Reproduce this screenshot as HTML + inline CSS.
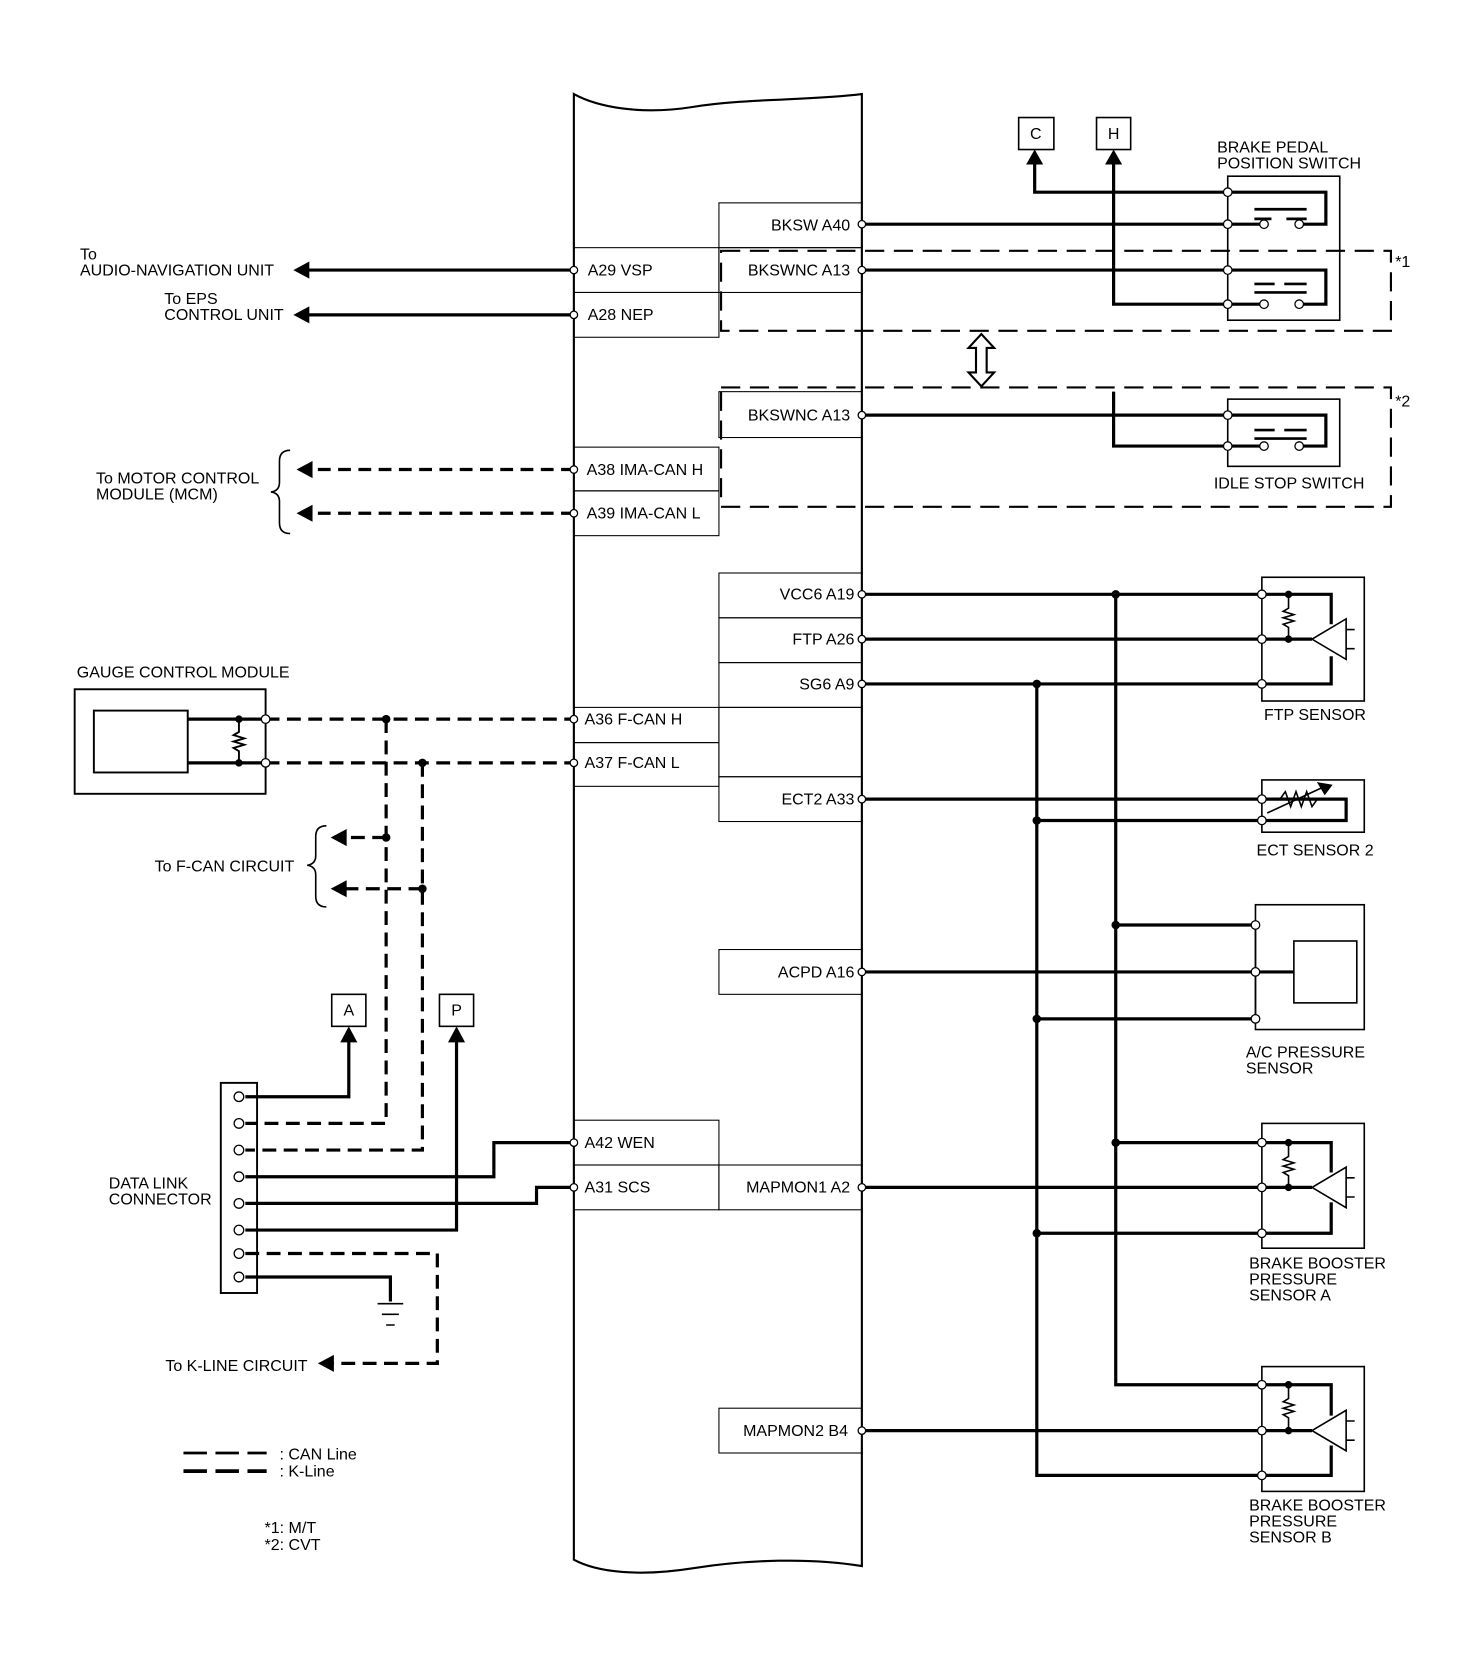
<!DOCTYPE html>
<html><head><meta charset="utf-8"><style>
html,body{margin:0;padding:0;background:#fff;}
svg{display:block}
text{font-family:"Liberation Sans",Arial,sans-serif;font-size:15px;fill:#000;}
</style></head><body>
<svg width="1472" height="1674" viewBox="0 0 1380 1569" xmlns="http://www.w3.org/2000/svg">
<g fill="none" stroke="#000">
<!-- ECU body -->
<path d="M538,88 C560,100 600,108 650,100 C700,92 760,94 808,88 L808,1468 C760,1460 700,1462 650,1470 C600,1478 560,1474 538,1462 Z" stroke-width="2"/>
<g stroke-width="1">
<rect x="538" y="232" width="136" height="42"/><rect x="538" y="274" width="136" height="42"/>
<rect x="538" y="419" width="136" height="41"/><rect x="538" y="460" width="136" height="42"/>
<rect x="538" y="663" width="136" height="33"/><rect x="538" y="696" width="136" height="41"/>
<rect x="538" y="1050" width="136" height="42"/><rect x="538" y="1092" width="136" height="42"/>
<rect x="674" y="190" width="134" height="42"/><rect x="674" y="232" width="134" height="42"/>
<rect x="674" y="367" width="134" height="43"/>
<rect x="674" y="537" width="134" height="42"/><rect x="674" y="579" width="134" height="42"/><rect x="674" y="621" width="134" height="42"/>
<rect x="674" y="663" width="134" height="65"/><rect x="674" y="728" width="134" height="42"/>
<rect x="674" y="890" width="134" height="42"/><rect x="674" y="1092" width="134" height="42"/>
<rect x="674" y="1320" width="134" height="42"/>
</g>
<g stroke-width="2" stroke-dasharray="18,9">
<path d="M676,235 H1304 V310 H676 Z"/>
<path d="M676,363 H1304 V475 H676 Z"/>
</g>
<g stroke-width="3">
<path d="M808,210 H1151"/><path d="M808,253 H1151"/><path d="M808,389 H1151"/>
<path d="M970,152 V180 H1243 V210 H1222"/><path d="M1151,210 H1181"/>
<path d="M1044,152 V285 H1181"/><path d="M1151,253 H1243 V285 H1222"/>
<path d="M1044,367 V418 H1181"/><path d="M1151,389 H1243 V418 H1222"/>
</g>
<g stroke-width="1.5">
<rect x="955" y="110" width="33" height="30"/><rect x="1028" y="110" width="32" height="30"/>
<rect x="1151" y="165" width="105" height="135"/>
<rect x="1151" y="374" width="105" height="63"/>
</g>
<g stroke-width="2.5">
<path d="M1176,196 H1225"/><path d="M1176,205 H1192 M1206,205 H1225"/>
<path d="M1176,266 H1195 M1204,266 H1225"/><path d="M1176,274 H1225"/>
<path d="M1176,403 H1195 M1204,403 H1225"/><path d="M1176,411 H1225"/>
</g>
<g fill="#fff" stroke-width="1.2">
<circle cx="1185" cy="210" r="4"/><circle cx="1218" cy="210" r="4"/>
<circle cx="1185" cy="285" r="4"/><circle cx="1218" cy="285" r="4"/>
<circle cx="1185" cy="418" r="4"/><circle cx="1218" cy="418" r="4"/>
</g>
<path d="M920,313 L908,326 H915 V349 H908 L920,362 L932,349 H925 V326 H932 Z" stroke-width="2"/>
<g stroke-width="3">
<path d="M538,253 H288"/>
<path d="M538,295 H288"/>
</g>
<g stroke-width="3" stroke-dasharray="12,7">
<path d="M538,440 H290"/>
<path d="M538,481 H290"/>
</g>
<path d="M272,422 Q262,422 262,432 V452 Q262,460 254,461 Q262,462 262,470 V490 Q262,500 272,500" stroke-width="1.5"/>
<g stroke-width="3">
<path d="M808,557 H1183"/><path d="M808,599 H1183"/><path d="M808,641 H1183"/>
<path d="M808,749 H1183"/><path d="M972,769 H1183"/>
<path d="M972,641 V1383 H1183"/><path d="M1046,557 V1298 H1183"/>
<path d="M1046,867 H1177"/><path d="M808,911 H1213"/><path d="M972,955 H1177"/>
<path d="M1046,1071 H1183"/><path d="M808,1113 H1183"/><path d="M972,1156 H1183"/>
<path d="M808,1341 H1183"/>
<path d="M1183,557 H1248 V585"/><path d="M1183,599 H1230"/><path d="M1183,641 H1248 V615"/>
<path d="M1183,749 H1262 V769 H1183"/>
<path d="M1183,1071 H1248 V1099"/><path d="M1183,1113 H1230"/><path d="M1183,1156 H1248 V1127"/>
<path d="M1183,1298 H1248 V1327"/><path d="M1183,1341 H1230"/><path d="M1183,1383 H1248 V1355"/>
</g>
<g stroke-width="1.5">
<rect x="1183" y="541" width="96" height="116"/><rect x="1183" y="731" width="96" height="49"/>
<rect x="1177" y="848" width="102" height="117"/><rect x="1213" y="882" width="59" height="58"/>
<path d="M1177,867 V955"/>
<rect x="1183" y="1053" width="96" height="117"/><rect x="1183" y="1281" width="96" height="117"/>
<path d="M1230,599 L1262,580 V618 Z M1262,590 H1270 M1262,608 H1270"/>
<path d="M1230,1113 L1262,1094 V1132 Z M1262,1104 H1270 M1262,1122 H1270"/>
<path d="M1230,1341 L1262,1322 V1360 Z M1262,1332 H1270 M1262,1350 H1270"/>
<path d="M1208,557 V570 L1203,573 L1213,576 L1203,579 L1213,582 L1203,585 L1208,588 V599"/>
<path d="M1208,1071 V1084 L1203,1087 L1213,1090 L1203,1093 L1213,1096 L1203,1099 L1208,1102 V1113"/>
<path d="M1208,1298 V1311 L1203,1314 L1213,1317 L1203,1320 L1213,1323 L1203,1326 L1208,1329 V1341"/>
<path d="M1200,749 L1205,742 L1210,756 L1215,742 L1220,756 L1225,742 L1230,756 L1235,749 H1240"/>
<path d="M1188,762 L1240,738"/><path d="M1236,734 L1248,736 L1242,744 Z" fill="#000"/>
</g>
<g stroke-width="1.8">
<rect x="70" y="646" width="179" height="98"/><rect x="88" y="666" width="88" height="58"/>
<path d="M224,674 V686 L219,689 L229,692 L219,695 L229,698 L219,701 L224,704 V715"/>
</g>
<g stroke-width="3">
<path d="M176,674 H249"/><path d="M176,715 H249"/>
</g>
<g stroke-width="3" stroke-dasharray="13,7">
<path d="M249,674 H538"/><path d="M249,715 H538"/>
<path d="M362,674 V1053 H230"/><path d="M396,715 V1078 H230"/>
<path d="M362,785 H322"/>
<path d="M396,833 H322"/>
<path d="M230,1175 H410 V1278 H310"/>
</g>
<path d="M306,774 Q296,774 296,784 V802 Q296,810 288,811 Q296,812 296,820 V840 Q296,850 306,850" stroke-width="1.5"/>
<rect x="207" y="1015" width="34" height="197" stroke-width="1.8"/>
<g stroke-width="3">
<path d="M230,1028 H327 V975"/>
<path d="M230,1153 H428 V975"/>
<path d="M538,1071 H463 V1103 H230"/>
<path d="M538,1113 H503 V1128 H230"/>
<path d="M230,1197 H366 V1220"/>
</g>
<g stroke-width="1.5">
<path d="M354,1222 H378 M358,1232 H374 M362,1242 H370"/>
<rect x="311" y="932" width="32" height="30"/><rect x="412" y="932" width="32" height="30"/>
</g>
<path d="M172,1362 H250" stroke-width="2.5" stroke-dasharray="22,8"/>
<path d="M172,1379 H250" stroke-width="3.5" stroke-dasharray="22,8"/>
<g fill="#fff" stroke-width="1.2">
<circle cx="808" cy="210" r="3.5"/><circle cx="808" cy="253" r="3.5"/><circle cx="808" cy="389" r="3.5"/>
<circle cx="538" cy="253" r="3.5"/><circle cx="538" cy="295" r="3.5"/><circle cx="538" cy="440" r="3.5"/><circle cx="538" cy="481" r="3.5"/>
<circle cx="538" cy="674" r="3.5"/><circle cx="538" cy="715" r="3.5"/><circle cx="538" cy="1071" r="3.5"/><circle cx="538" cy="1113" r="3.5"/>
<circle cx="808" cy="557" r="3.5"/><circle cx="808" cy="599" r="3.5"/><circle cx="808" cy="641" r="3.5"/><circle cx="808" cy="749" r="3.5"/>
<circle cx="808" cy="911" r="3.5"/><circle cx="808" cy="1113" r="3.5"/><circle cx="808" cy="1341" r="3.5"/>
<circle cx="1151" cy="180" r="4"/><circle cx="1151" cy="210" r="4"/><circle cx="1151" cy="253" r="4"/><circle cx="1151" cy="285" r="4"/>
<circle cx="1151" cy="389" r="4"/><circle cx="1151" cy="418" r="4"/>
<circle cx="1183" cy="557" r="4"/><circle cx="1183" cy="599" r="4"/><circle cx="1183" cy="641" r="4"/>
<circle cx="1183" cy="749" r="4"/><circle cx="1183" cy="769" r="4"/>
<circle cx="1177" cy="867" r="4"/><circle cx="1177" cy="911" r="4"/><circle cx="1177" cy="955" r="4"/>
<circle cx="1183" cy="1071" r="4"/><circle cx="1183" cy="1113" r="4"/><circle cx="1183" cy="1156" r="4"/>
<circle cx="1183" cy="1298" r="4"/><circle cx="1183" cy="1341" r="4"/><circle cx="1183" cy="1383" r="4"/>
<circle cx="249" cy="674" r="4"/><circle cx="249" cy="715" r="4"/>
<circle cx="224" cy="1028" r="4.5"/><circle cx="224" cy="1053" r="4.5"/><circle cx="224" cy="1078" r="4.5"/><circle cx="224" cy="1103" r="4.5"/>
<circle cx="224" cy="1128" r="4.5"/><circle cx="224" cy="1153" r="4.5"/><circle cx="224" cy="1175" r="4.5"/><circle cx="224" cy="1197" r="4.5"/>
</g>
</g>
<g fill="#000">
<circle cx="1046" cy="557" r="4"/><circle cx="972" cy="641" r="4"/><circle cx="972" cy="769" r="4"/>
<circle cx="1046" cy="867" r="4"/><circle cx="972" cy="955" r="4"/><circle cx="1046" cy="1071" r="4"/><circle cx="972" cy="1156" r="4"/>
<circle cx="1208" cy="557" r="3.5"/><circle cx="1208" cy="599" r="3.5"/>
<circle cx="1208" cy="1071" r="3.5"/><circle cx="1208" cy="1113" r="3.5"/>
<circle cx="1208" cy="1298" r="3.5"/><circle cx="1208" cy="1341" r="3.5"/>
<circle cx="224" cy="674" r="3.5"/><circle cx="224" cy="715" r="3.5"/>
<circle cx="362" cy="674" r="4"/><circle cx="396" cy="715" r="4"/><circle cx="362" cy="785" r="4"/><circle cx="396" cy="833" r="4"/>
<path d="M970,140 L962,154 H978 Z M1044,140 L1036,154 H1052 Z"/>
<path d="M327,962 L319,977 H335 Z M428,962 L420,977 H436 Z"/>
<path d="M275,253 L290,245 V261 Z M275,295 L290,287 V303 Z"/>
<path d="M278,440 L293,432 V448 Z M278,481 L293,473 V489 Z"/>
<path d="M310,785 L325,777 V793 Z M310,833 L325,825 V841 Z"/>
<path d="M298,1278 L313,1270 V1286 Z"/>
</g>
<text x="971" y="130" text-anchor="middle">C</text>
<text x="1044" y="130" text-anchor="middle">H</text>
<text x="327" y="952" text-anchor="middle">A</text>
<text x="428" y="952" text-anchor="middle">P</text>
<text x="1141" y="143">BRAKE PEDAL</text>
<text x="1141" y="158">POSITION SWITCH</text>
<text x="1308" y="250">*1</text><text x="1308" y="381">*2</text>
<text x="1138" y="458">IDLE STOP SWITCH</text>
<text x="1185" y="675">FTP SENSOR</text>
<text x="1178" y="802">ECT SENSOR 2</text>
<text x="1168" y="991">A/C PRESSURE</text><text x="1168" y="1006">SENSOR</text>
<text x="1171" y="1189">BRAKE BOOSTER</text><text x="1171" y="1204">PRESSURE</text><text x="1171" y="1219">SENSOR A</text>
<text x="1171" y="1416">BRAKE BOOSTER</text><text x="1171" y="1431">PRESSURE</text><text x="1171" y="1446">SENSOR B</text>
<g text-anchor="end">
<text x="797" y="216">BKSW A40</text>
<text x="797" y="258">BKSWNC A13</text>
<text x="797" y="394">BKSWNC A13</text>
<text x="801" y="562">VCC6 A19</text>
<text x="801" y="604">FTP A26</text>
<text x="801" y="646">SG6 A9</text>
<text x="801" y="754">ECT2 A33</text>
<text x="801" y="916">ACPD A16</text>
<text x="797" y="1118">MAPMON1 A2</text>
<text x="795" y="1346">MAPMON2 B4</text>
</g>
<text x="551" y="258">A29 VSP</text>
<text x="551" y="300">A28 NEP</text>
<text x="550" y="445">A38 IMA-CAN H</text>
<text x="550" y="486">A39 IMA-CAN L</text>
<text x="548" y="679">A36 F-CAN H</text>
<text x="548" y="720">A37 F-CAN L</text>
<text x="548" y="1076">A42 WEN</text>
<text x="548" y="1118">A31 SCS</text>
<text x="75" y="243">To</text>
<text x="75" y="258">AUDIO-NAVIGATION UNIT</text>
<text x="154" y="285">To EPS</text>
<text x="154" y="300">CONTROL UNIT</text>
<text x="90" y="453">To MOTOR CONTROL</text>
<text x="90" y="468">MODULE (MCM)</text>
<text x="72" y="635">GAUGE CONTROL MODULE</text>
<text x="145" y="817">To F-CAN CIRCUIT</text>
<text x="102" y="1114">DATA LINK</text>
<text x="102" y="1129">CONNECTOR</text>
<text x="155" y="1285">To K-LINE CIRCUIT</text>
<text x="262" y="1368">: CAN Line</text>
<text x="262" y="1384">: K-Line</text>
<text x="248" y="1437">*1: M/T</text>
<text x="248" y="1453">*2: CVT</text>
</svg>
</body></html>
